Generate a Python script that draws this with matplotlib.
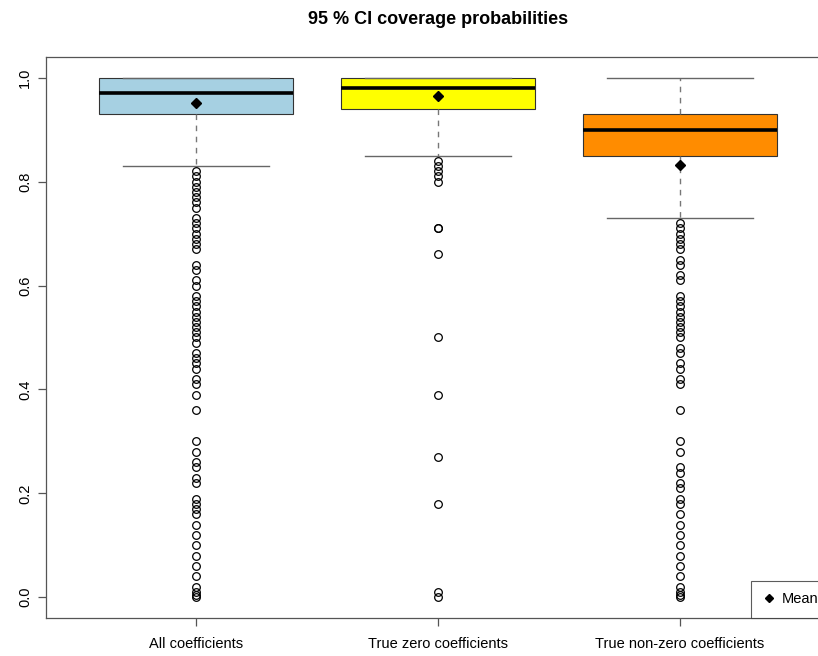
import numpy as np
import matplotlib
matplotlib.use("Agg")
from matplotlib import pyplot as plt
from matplotlib.lines import Line2D

groups = ["All coefficients", "True zero coefficients", "True non-zero coefficients"]
box_colors = ["#A6D0E2", "#FFFF00", "#FF8C00"]

q1 = [0.93, 0.94, 0.85]
med = [0.97, 0.98, 0.90]
q3 = [1.00, 1.00, 0.93]
whislo = [0.83, 0.85, 0.73]
whishi = [1.00, 1.00, 1.00]
means = [0.952, 0.965, 0.832]

fliers_all = [0.82, 0.81, 0.80, 0.79, 0.78, 0.77, 0.76, 0.75, 0.73, 0.72, 0.71, 0.70,
              0.69, 0.68, 0.67, 0.64, 0.63, 0.61, 0.60, 0.58, 0.57, 0.56, 0.55, 0.54,
              0.53, 0.52, 0.51, 0.50, 0.49, 0.47, 0.46, 0.45, 0.44, 0.42, 0.41, 0.39,
              0.36, 0.30, 0.28, 0.26, 0.25, 0.23, 0.22, 0.19, 0.18, 0.17, 0.16, 0.14,
              0.12, 0.10, 0.08, 0.06, 0.04, 0.02, 0.01, 0.005, 0.0]
fliers_zero = [0.84, 0.83, 0.82, 0.81, 0.80, 0.71, 0.71, 0.66, 0.50, 0.39, 0.27, 0.18,
               0.01, 0.0]
fliers_nonzero = [0.72, 0.71, 0.70, 0.69, 0.68, 0.67, 0.65, 0.64, 0.62, 0.61, 0.58,
                  0.57, 0.56, 0.55, 0.54, 0.53, 0.52, 0.51, 0.50, 0.48, 0.47, 0.45,
                  0.44, 0.42, 0.41, 0.36, 0.30, 0.28, 0.25, 0.24, 0.22, 0.21, 0.19,
                  0.18, 0.16, 0.14, 0.12, 0.10, 0.08, 0.06, 0.04, 0.02, 0.01, 0.005, 0.0]
fliers = [fliers_all, fliers_zero, fliers_nonzero]

yticks = [0.0, 0.2, 0.4, 0.6, 0.8, 1.0]

stats = []
for i in range(3):
    stats.append(dict(label=groups[i], q1=q1[i], med=med[i], q3=q3[i],
                      whislo=whislo[i], whishi=whishi[i], fliers=fliers[i], mean=means[i]))

plt.rcParams['font.family'] = ['Liberation Sans', 'DejaVu Sans']

fig = plt.figure(figsize=(8.18, 6.56), dpi=100)
# plot region runs past the right edge of the picture, as in the reference crop
ax = fig.add_axes([46 / 818, 38 / 656, 784 / 818, 561 / 656])

pos = np.arange(1, 4)
bp = ax.bxp(stats, positions=pos, widths=0.8, patch_artist=True, showmeans=True,
            boxprops=dict(edgecolor="#333333", linewidth=0.8),
            medianprops=dict(color="black", linewidth=2.6, solid_capstyle="butt"),
            whiskerprops=dict(color="#777777", linestyle=(0, (4, 4)), linewidth=1.0),
            capprops=dict(color="#666666", linewidth=1.0),
            capwidths=0.6,
            flierprops=dict(marker="o", markerfacecolor="none", markeredgecolor="black",
                            markersize=5.5, markeredgewidth=0.9),
            meanprops=dict(marker="D", markerfacecolor="black", markeredgecolor="black",
                           markersize=5.5))
for patch, c in zip(bp["boxes"], box_colors):
    patch.set_facecolor(c)

ax.set_xlim(0.38, 3.62)
ax.set_ylim(-0.04, 1.04)
ax.set_yticks(yticks)
ax.set_yticklabels(["0.0", "0.2", "0.4", "0.6", "0.8", "1.0"], rotation=90, va="center")
ax.set_xticks(pos)
ax.set_xticklabels(groups)
ax.tick_params(axis="both", labelsize=10.5, length=6, color="#555555", width=0.9)
ax.tick_params(axis="y", pad=4)
ax.tick_params(axis="x", pad=8)
for s in ax.spines.values():
    s.set_color("#555555")
    s.set_linewidth(0.9)

fig.text((46 + 830) / 2 / 818, 1 - 20 / 656, "95 % CI coverage probabilities",
         ha="center", va="center", fontsize=13, fontweight="bold")

handle = Line2D([], [], marker="D", color="black", linestyle="none", markersize=4)
leg = ax.legend([handle], ["Mean"], loc="lower right", borderaxespad=0, fancybox=False,
                fontsize=10.5, handlelength=0.8, borderpad=0.8, handletextpad=0.5)
leg.get_frame().set_edgecolor("#333333")
leg.get_frame().set_linewidth(0.8)

fig.savefig("out.png", dpi=100)
